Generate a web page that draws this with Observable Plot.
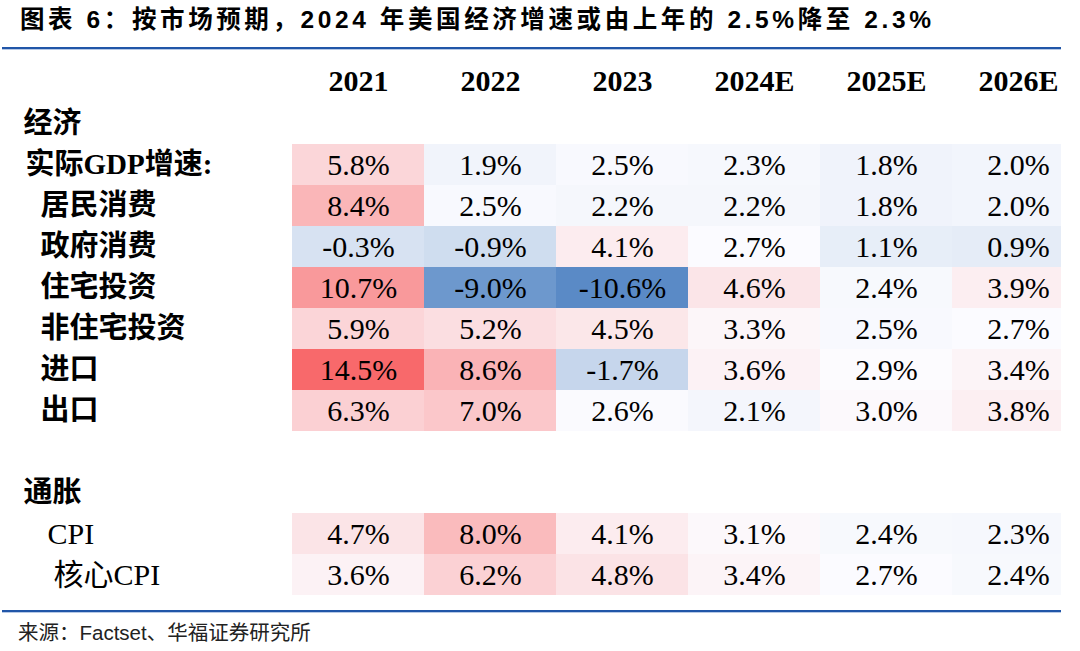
<!DOCTYPE html>
<html>
<head>
<meta charset="utf-8">
<script src="https://cdn.jsdelivr.net/npm/d3@7"></script>
<script src="https://cdn.jsdelivr.net/npm/@observablehq/plot@0.6"></script>
<style>
  html, body { margin: 0; padding: 0; background: #fff; }
  #wrap { position: relative; width: 1080px; height: 651px; overflow: hidden; background: #fff; }
  #chart { position: absolute; left: 0; top: 0; }
  #title { position: absolute; left: 20px; top: 5px; font-family: "Liberation Sans", "Noto Sans CJK SC", sans-serif; font-weight: bold; font-size: 24.5px; letter-spacing: 3.6px; color: #000; white-space: nowrap; line-height: 30px; }
  .rule { position: absolute; left: 2px; width: 1059px; height: 2px; background: #2156a8; box-shadow: 0 1px 0 #b7c9e6; }
  #source { position: absolute; left: 18px; top: 619px; font-family: "Liberation Sans", "Noto Sans CJK SC", sans-serif; font-size: 20.5px; color: #222; white-space: nowrap; line-height: 28px; }
</style>
</head>
<body>
<div id="wrap">
  <div id="chart"></div>
  <div id="title">图表 6：按市场预期，2024 年美国经济增速或由上年的 2.5%降至 2.3%</div>
  <div class="rule" style="top:47px"></div>
  <div class="rule" style="top:610px"></div>
  <div id="source">来源：Factset、华福证券研究所</div>
</div>
<script>
// ---- data ----
const years = ["2021", "2022", "2023", "2024E", "2025E", "2026E"];
const sectionLabels = ["经济", "通胀"];
const headlineRow = ["实际GDP增速:"];
const componentRows = ["居民消费", "政府消费", "住宅投资", "非住宅投资", "进口", "出口"];
const cpiRow = ["CPI"];
const coreCpiRow = ["核心CPI"];

const realGdp        = [5.8, 1.9, 2.5, 2.3, 1.8, 2.0];
const consumption    = [8.4, 2.5, 2.2, 2.2, 1.8, 2.0];
const government     = [-0.3, -0.9, 4.1, 2.7, 1.1, 0.9];
const residential    = [10.7, -9.0, -10.6, 4.6, 2.4, 3.9];
const nonResidential = [5.9, 5.2, 4.5, 3.3, 2.5, 2.7];
const imports        = [14.5, 8.6, -1.7, 3.6, 2.9, 3.4];
const exports        = [6.3, 7.0, 2.6, 2.1, 3.0, 3.8];
const cpi            = [4.7, 8.0, 4.1, 3.1, 2.4, 2.3];
const coreCpi        = [3.6, 6.2, 4.8, 3.4, 2.7, 2.4];

// ---- build table ----
const economyRows = [...headlineRow, ...componentRows];
const inflationRows = [...cpiRow, ...coreCpiRow];
const rowSeries = [
  [headlineRow[0], realGdp],
  [componentRows[0], consumption],
  [componentRows[1], government],
  [componentRows[2], residential],
  [componentRows[3], nonResidential],
  [componentRows[4], imports],
  [componentRows[5], exports],
  [cpiRow[0], cpi],
  [coreCpiRow[0], coreCpi]
];
const cells = rowSeries.flatMap(([row, vals]) => vals.map((v, i) => ({row, year: years[i], value: v})));
const HEADER = "__header", GAP = "__gap";
const yDomain = [HEADER, sectionLabels[0], ...economyRows, GAP, sectionLabels[1], ...inflationRows];

const allVals = cells.map(d => d.value);
const pivot = d3.median(allVals);

const serif = "'Liberation Serif', 'Times New Roman', serif";
const labelFont = "'Liberation Serif', 'Noto Sans CJK SC', serif";

const chart = Plot.plot({
  width: 1080,
  height: 651,
  marginLeft: 290,
  marginRight: 19,
  marginTop: 57.6,
  marginBottom: 51.3,
  style: {background: "none", overflow: "visible"},
  x: {type: "band", domain: years, range: [290, 1085], padding: 0, axis: null},
  y: {type: "band", domain: yDomain, padding: 0, axis: null},
  color: {
    type: "diverging",
    domain: [d3.min(allVals), d3.max(allVals)],
    pivot,
    symmetric: false,
    interpolate: d3.piecewise(d3.interpolateRgb, ["#5A8AC6", "#FCFCFF", "#F8696B"])
  },
  marks: [
    Plot.cell(cells, {x: "year", y: "row", fill: "value", inset: 0, clip: true}),
    Plot.text(cells, {x: "year", y: "row", text: d => d.value.toFixed(1) + "%", fontFamily: serif, fontSize: 30, fill: "#000", dy: 0}),
    Plot.text(years, {x: d => d, y: () => HEADER, text: d => d, fontFamily: serif, fontSize: 30, fontWeight: "bold", fill: "#000", dy: -2}),
    Plot.text(sectionLabels, {y: d => d, text: d => d, frameAnchor: "left", textAnchor: "start", dx: -267, dy: 0, fontFamily: labelFont, fontSize: 29, fontWeight: "bold", fill: "#000"}),
    Plot.text(headlineRow, {y: d => d, text: d => d, frameAnchor: "left", textAnchor: "start", dx: -265, dy: 0, fontFamily: labelFont, fontSize: 29, fontWeight: "bold", fill: "#000"}),
    Plot.text(componentRows, {y: d => d, text: d => d, frameAnchor: "left", textAnchor: "start", dx: -250, dy: 0, fontFamily: labelFont, fontSize: 29, fontWeight: "bold", fill: "#000"}),
    Plot.text(cpiRow, {y: d => d, text: d => d, frameAnchor: "left", textAnchor: "start", dx: -243, dy: 0, fontFamily: labelFont, fontSize: 30, fill: "#000"}),
    Plot.text(coreCpiRow, {y: d => d, text: d => d, frameAnchor: "left", textAnchor: "start", dx: -237, dy: 0, fontFamily: labelFont, fontSize: 30, fill: "#000"})
  ]
});
document.getElementById("chart").appendChild(chart);
</script>
</body>
</html>
